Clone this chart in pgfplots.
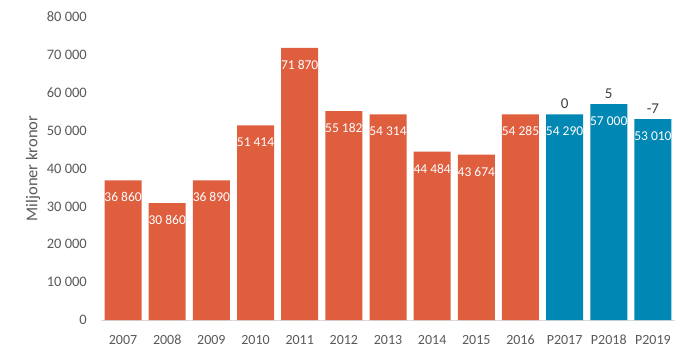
\documentclass[border=0pt]{standalone}
\usepackage{fontspec}
\setmainfont{Carlito}
\usepackage{pgfplots}
\pgfplotsset{compat=1.18}
\definecolor{org}{RGB}{222,94,62}
\definecolor{blu}{RGB}{0,135,180}
\definecolor{txt}{RGB}{89,89,89}
\definecolor{lbl}{RGB}{64,64,64}
\definecolor{axl}{RGB}{217,217,217}
\begin{document}
\begin{tikzpicture}[x=1pt,y=1pt]
\path[use as bounding box] (0,0) rectangle (690,359);
\begin{axis}[at={(101pt,39pt)}, anchor=south west, scale only axis,
  width=574pt, height=303pt,
  xmin=-0.5, xmax=12.5, ymin=0, ymax=80000,
  axis x line*=bottom, axis y line*=left,
  x axis line style={draw=axl, line width=0.8pt, -},
  y axis line style={draw=none},
  major tick length=0pt, tick style={draw=none},
  ytick={0,10000,20000,30000,40000,50000,60000,70000,80000},
  xtick={0,...,12},
  xticklabels={2007,2008,2009,2010,2011,2012,2013,2014,2015,2016,P2017,P2018,P2019},
  /pgf/number format/assume math mode=true,
  /pgf/number format/1000 sep={\ },
  scaled y ticks=false,
  yticklabel style={font=\fontsize{14.5}{17}\selectfont, text=txt, inner sep=0pt, xshift=-14pt},
  xticklabel style={font=\fontsize{14}{16}\selectfont, text=txt, inner sep=0pt, anchor=base, yshift=-24.5pt},
  ylabel={Miljoner kronor},
  ylabel style={font=\fontsize{16.5}{18}\selectfont, text=txt, at={(axis description cs:-0.1185,0.5)}, anchor=center},
  ybar, bar width=37pt,
  clip=false,
]
\addplot[fill=org, draw=none, bar shift=0pt,
  nodes near coords,
  every node near coord/.append style={text=white, font=\fontsize{13.5}{16}\selectfont, anchor=base, inner sep=0pt, yshift=-21.5pt}]
  coordinates {(0,36860) (1,30860) (2,36890) (3,51414) (4,71870) (5,55182) (6,54314) (7,44484) (8,43674) (9,54285)};
\addplot[fill=blu, draw=none, bar shift=0pt,
  nodes near coords,
  every node near coord/.append style={text=white, font=\fontsize{13.5}{16}\selectfont, anchor=base, inner sep=0pt, yshift=-21.5pt}]
  coordinates {(10,54290) (11,57000) (12,53010)};
\addplot[draw=none, fill=none, bar shift=0pt, forget plot,
  point meta=explicit symbolic,
  nodes near coords,
  every node near coord/.append style={text=lbl, font=\fontsize{15}{18}\selectfont, anchor=base, inner sep=0pt, yshift=6pt}]
  coordinates {(10,54290) [0] (11,57000) [5] (12,53010) [-7]};
\end{axis}
\end{tikzpicture}
\end{document}
